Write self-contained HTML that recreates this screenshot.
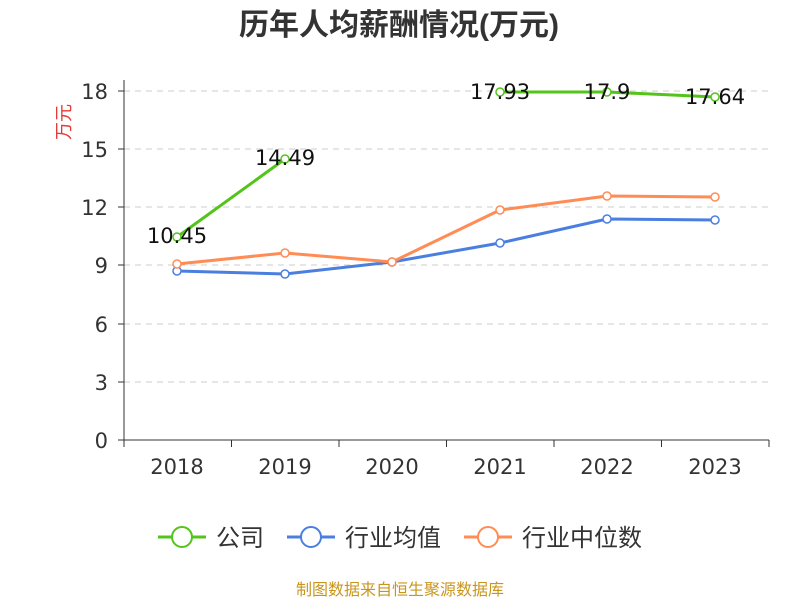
<!DOCTYPE html>
<html><head><meta charset="utf-8"><style>
body{margin:0;background:#fff;}
text{font-family:"DejaVu Sans","Liberation Sans","Noto Sans CJK SC",sans-serif;}
.c{font-family:"Liberation Sans","Noto Sans CJK SC",sans-serif;}
</style></head><body>
<svg width="800" height="600" xmlns="http://www.w3.org/2000/svg">
<text class="c" x="399" y="35" text-anchor="middle" font-size="30" font-weight="bold" fill="#333">历年人均薪酬情况(万元)</text>
<text class="c" x="64" y="122" font-size="18" fill="#e53935" text-anchor="middle" transform="rotate(-90 64 122)" dy="6">万元</text>
<g stroke="#ccc" stroke-dasharray="6,5" stroke-width="1">
<line x1="124" x2="769" y1="91" y2="91"/><line x1="124" x2="769" y1="149" y2="149"/>
<line x1="124" x2="769" y1="207" y2="207"/><line x1="124" x2="769" y1="265" y2="265"/>
<line x1="124" x2="769" y1="324" y2="324"/><line x1="124" x2="769" y1="382" y2="382"/>
</g>
<g stroke="#333" stroke-width="1">
<line x1="124" x2="124" y1="80" y2="440"/><line x1="124" x2="769" y1="440" y2="440"/>
<line x1="118" x2="124" y1="91" y2="91"/><line x1="118" x2="124" y1="149" y2="149"/>
<line x1="118" x2="124" y1="207" y2="207"/><line x1="118" x2="124" y1="265" y2="265"/>
<line x1="118" x2="124" y1="324" y2="324"/><line x1="118" x2="124" y1="382" y2="382"/>
<line x1="118" x2="124" y1="440" y2="440"/>
<line x1="124" x2="124" y1="440" y2="447"/><line x1="231.5" x2="231.5" y1="440" y2="447"/>
<line x1="339" x2="339" y1="440" y2="447"/><line x1="446.5" x2="446.5" y1="440" y2="447"/>
<line x1="554" x2="554" y1="440" y2="447"/><line x1="661.5" x2="661.5" y1="440" y2="447"/>
<line x1="769" x2="769" y1="440" y2="447"/>
</g>
<g font-size="21" fill="#333" text-anchor="end">
<text x="108" y="99">18</text><text x="108" y="157">15</text><text x="108" y="215">12</text>
<text x="108" y="273">9</text><text x="108" y="332">6</text><text x="108" y="390">3</text><text x="108" y="448">0</text>
</g>
<g font-size="21" fill="#333" text-anchor="middle">
<text x="177" y="474">2018</text><text x="285" y="474">2019</text><text x="392" y="474">2020</text>
<text x="500" y="474">2021</text><text x="607" y="474">2022</text><text x="715" y="474">2023</text>
</g>
<g fill="none" stroke-width="3">
<polyline stroke="#4a7fe0" points="177,271 285,274 392,262 500,243 607,219 715,220"/>
<polyline stroke="#ff8c55" points="177,264 285,253 392,262 500,210 607,196 715,197"/>
<polyline stroke="#52c41a" points="177,237 285,159"/>
<polyline stroke="#52c41a" points="500,92 607,92 715,97"/>
</g>
<g fill="#fff" stroke-width="1.5">
<g stroke="#4a7fe0"><circle cx="177" cy="271" r="4"/><circle cx="285" cy="274" r="4"/><circle cx="392" cy="262" r="4"/><circle cx="500" cy="243" r="4"/><circle cx="607" cy="219" r="4"/><circle cx="715" cy="220" r="4"/></g>
<g stroke="#ff8c55"><circle cx="177" cy="264" r="4"/><circle cx="285" cy="253" r="4"/><circle cx="392" cy="262" r="4"/><circle cx="500" cy="210" r="4"/><circle cx="607" cy="196" r="4"/><circle cx="715" cy="197" r="4"/></g>
<g stroke="#52c41a"><circle cx="177" cy="237" r="4"/><circle cx="285" cy="159" r="4"/><circle cx="500" cy="92" r="4"/><circle cx="607" cy="92" r="4"/><circle cx="715" cy="97" r="4"/></g>
</g>
<g font-size="21" fill="#111" text-anchor="middle">
<text x="177" y="243">10.45</text><text x="285" y="165">14.49</text>
<text x="500" y="99">17.93</text><text x="607" y="99">17.9</text><text x="715" y="104">17.64</text>
</g>
<g font-size="24" fill="#333" class="c">
<line x1="158" x2="206" y1="537" y2="537" stroke="#52c41a" stroke-width="3"/><circle cx="182" cy="537" r="10" fill="#fff" stroke="#52c41a" stroke-width="2"/>
<text class="c" x="216" y="546">公司</text>
<line x1="287" x2="335" y1="537" y2="537" stroke="#4a7fe0" stroke-width="3"/><circle cx="311" cy="537" r="10" fill="#fff" stroke="#4a7fe0" stroke-width="2"/>
<text class="c" x="345" y="546">行业均值</text>
<line x1="464" x2="512" y1="537" y2="537" stroke="#ff8c55" stroke-width="3"/><circle cx="488" cy="537" r="10" fill="#fff" stroke="#ff8c55" stroke-width="2"/>
<text class="c" x="522" y="546">行业中位数</text>
</g>
<text class="c" x="400" y="595" font-size="16" fill="#c8961e" text-anchor="middle">制图数据来自恒生聚源数据库</text>
</svg>
</body></html>
